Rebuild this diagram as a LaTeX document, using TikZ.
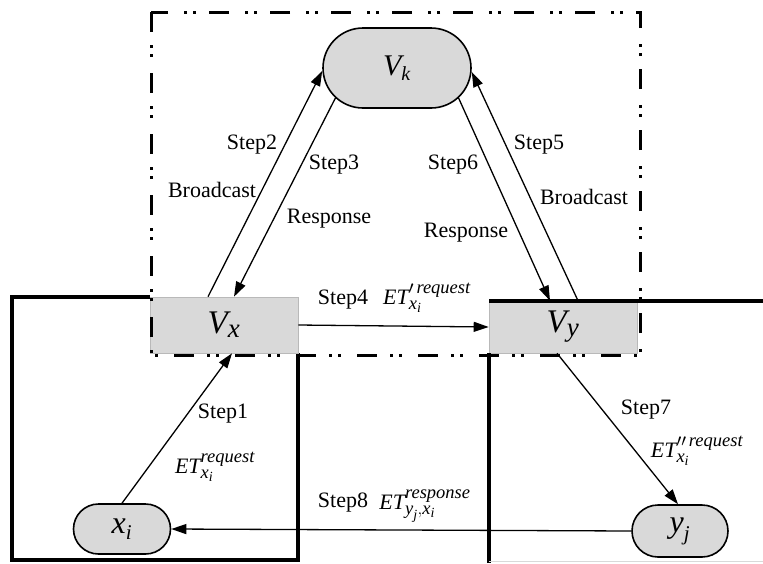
\documentclass[tikz,border=0pt]{standalone}
\usepackage{amsmath}
\usepackage{fontspec}
\setmainfont{Liberation Serif}
\usetikzlibrary{shapes.misc,arrows.meta}
\DeclareMathSizes{22}{22}{18.5}{14}
\DeclareMathSizes{30}{30}{20}{14}
\DeclareMathSizes{32}{32}{21}{15}
\DeclareMathSizes{33}{33}{27}{18}
\tikzset{
  steplab/.style={font=\fontsize{22}{24}\selectfont, inner sep=0pt},
  etlab/.style={font=\fontsize{22}{24}\selectfont, inner sep=0pt},
  conn/.style={line width=1.3pt, -{Triangle[length=15pt,width=10pt]}},
  grayrr/.style={rounded rectangle, draw=black, line width=1.6pt, fill=gray!30, inner sep=0pt},
  graybox/.style={rectangle, draw=gray!55, line width=0.6pt, fill=gray!30, inner sep=0pt},
  frameline/.style={line width=3pt, dash pattern=on 20pt off 13pt on 3pt off 6pt on 3pt off 16pt},
  boxline/.style={line width=3.2pt},
  bigfont/.style={font=\fontsize{30}{32}\selectfont},
  biggerfont/.style={font=\fontsize{32}{34}\selectfont},
  vfont/.style={font=\fontsize{33}{35}\selectfont},
}
\begin{document}
\begin{tikzpicture}[x=1pt,y=-1pt]
\useasboundingbox (0,0) rectangle (763,563);
% left solid box
\draw[boxline] (150,297) -- (12,297) -- (12,560) -- (298,560) -- (298,353);
% nodes
\node[grayrr, bigfont, minimum width=148pt, minimum height=80pt] (Vk) at (397,68) {$\textit{V}_{\textit{k}}$};
\node[graybox, vfont, minimum width=148pt, minimum height=56pt] (Vx) at (224,325) {$\textit{V}_{\textit{x}}$};
\node[graybox, vfont, minimum width=148pt, minimum height=52pt] (Vy) at (563,327) {$\textit{V}_{\textit{y}}$};
\node[grayrr, biggerfont, minimum width=97pt, minimum height=50pt] (xi) at (122,529) {$\textit{x}_{\textit{i}}$};
\node[grayrr, biggerfont, minimum width=96pt, minimum height=52pt] (yj) at (680,531) {$\textit{y}_{\textit{j}}$};
% right solid lines
\draw[boxline] (489,301) -- (763,301);
\draw[boxline] (489,353) -- (489,563);
\draw[gray!30, line width=1pt] (489,561) -- (763,561);
% dash-dot frame
\draw[frameline] (151,12) rectangle (640,355);
% connectors
\draw[conn] (xi.north) -- ([xshift=8pt]Vx.south);
\draw[conn] ([xshift=-16pt]Vx.north) -- ([yshift=-3pt]Vk.west);
\draw[conn] (Vk.206) -- ([xshift=10pt]Vx.north);
\draw[conn] (Vx.east) -- (Vy.west);
\draw[conn] ([xshift=15pt]Vy.north) -- ([yshift=-4pt]Vk.east);
\draw[conn] (Vk.334) -- ([xshift=-13pt]Vy.north);
\draw[conn] ([xshift=-6pt]Vy.south) -- ([xshift=-2pt]yj.north);
\draw[conn] (yj.west) -- (xi.east);
% labels
\node[steplab] (s2) at (252,145) {Step2};
\node[steplab] (b2) at (212,190) {Broadcast};
\node[steplab] (s3) at (334,165) {Step3};
\node[steplab] (r3) at (329,219) {Response};
\node[steplab] (s6) at (453,165) {Step6};
\node[steplab] (r6) at (466,233) {Response};
\node[steplab] (s5) at (539,145) {Step5};
\node[steplab] (b5) at (584,197) {Broadcast};
\node[steplab] (s4) at (343,300) {Step4};
\node[etlab] (e4) at (427,298) {$\textit{ET}^{\prime\,\textit{request}}_{\textit{x}_{\textit{i}}}$};
\node[steplab] (s1) at (223,414) {Step1};
\node[etlab] (e1) at (215,467) {$\textit{ET}^{\textit{request}}_{\textit{x}_{\textit{i}}}$};
\node[steplab] (s7) at (646,410) {Step7};
\node[etlab] (e7) at (697,451) {$\textit{ET}^{\prime\prime\,\textit{request}}_{\textit{x}_{\textit{i}}}$};
\node[steplab] (s8) at (343,503) {Step8};
\node[etlab] (e8) at (425,506) {$\textit{ET}^{\textit{response}}_{\textit{y}_{\textit{j}},\textit{x}_{\textit{i}}}$};
\end{tikzpicture}
\end{document}
